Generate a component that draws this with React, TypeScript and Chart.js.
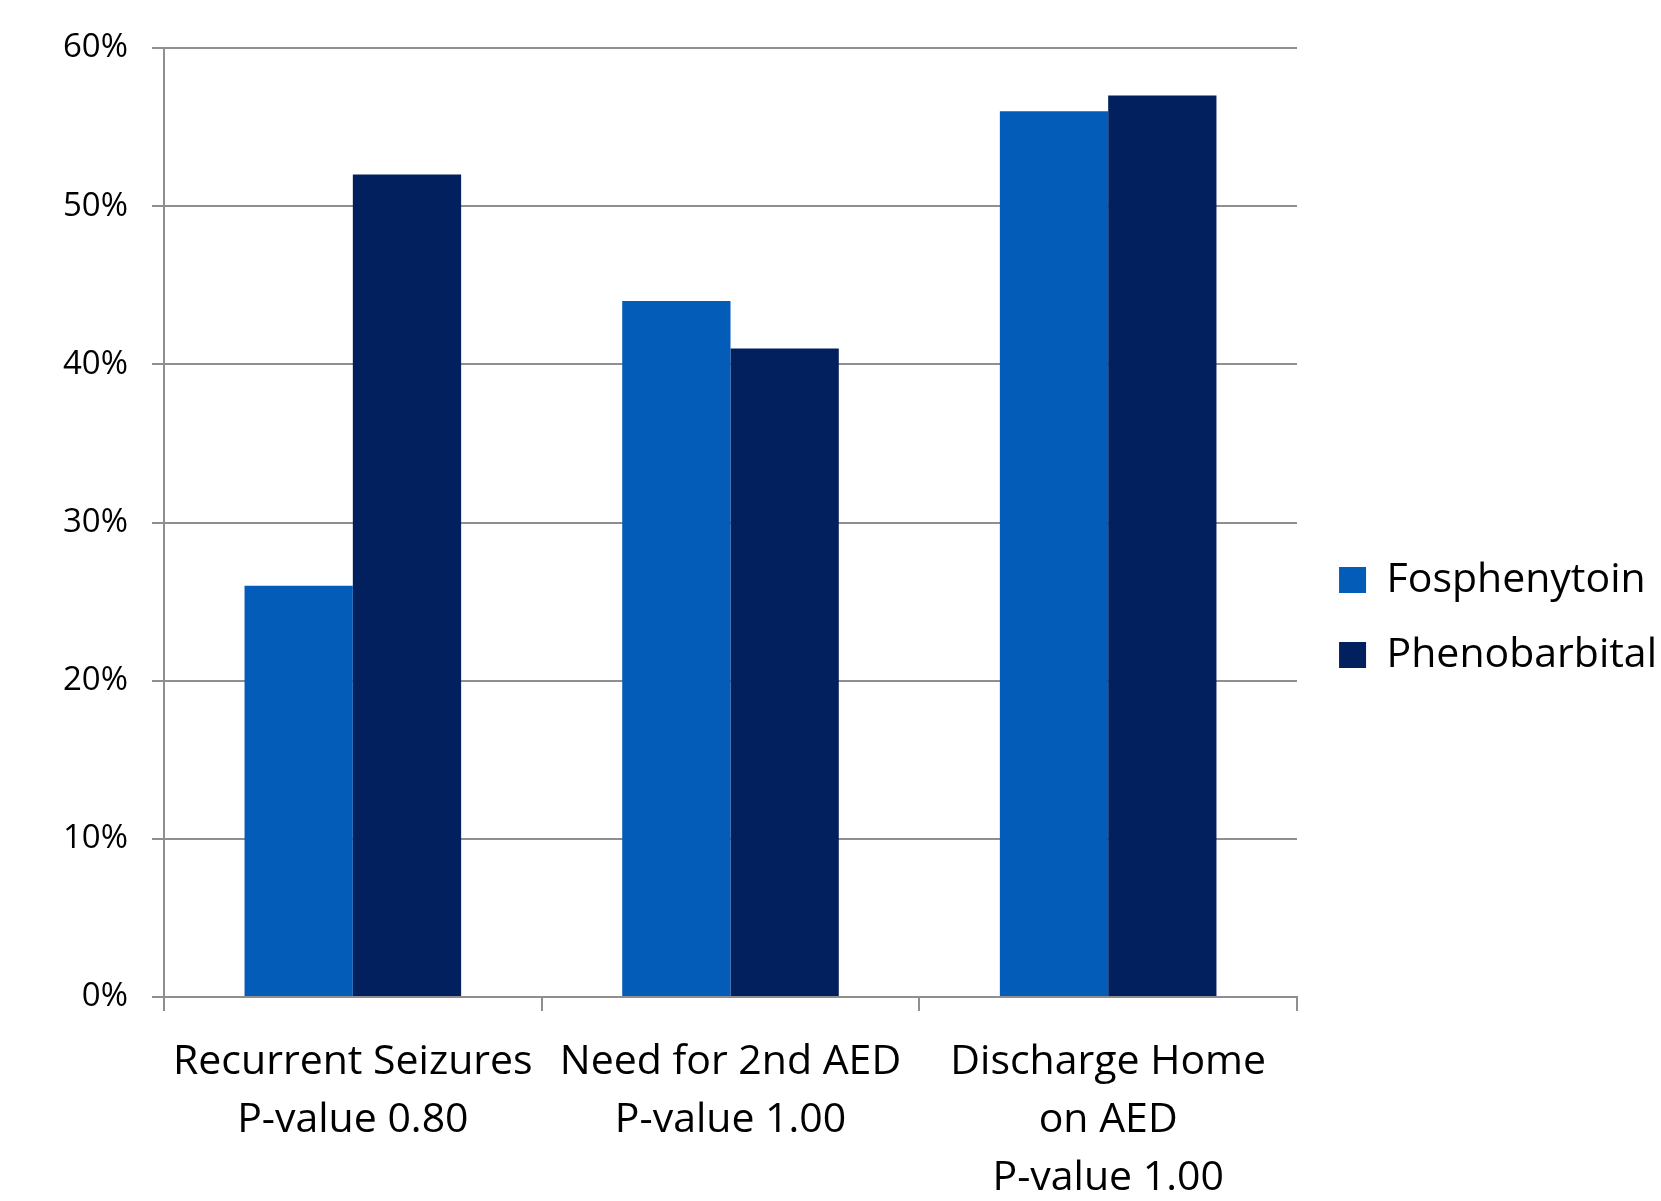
import React, { useEffect, useRef } from 'react';
import { Chart, registerables } from 'chart.js';

Chart.register(...registerables);

const categories: string[][] = [
  ['Recurrent Seizures', 'P-value 0.80'],
  ['Need for 2nd AED', 'P-value 1.00'],
  ['Discharge Home', 'on AED', 'P-value 1.00'],
];
const seriesNames = ['Fosphenytoin', 'Phenobarbital'];
const fosphenytoin = [26, 44, 56];
const phenobarbital = [52, 41, 57];
const yTickValues = [0, 10, 20, 30, 40, 50, 60];
const seriesColors = ['#035DB8', '#03205E'];

const W = 1661;
const H = 1201;
const FONT = '"Open Sans"';
const WEIGHT = '500';

export default function App() {
  const ref = useRef<HTMLCanvasElement>(null);

  useEffect(() => {
    const canvas = ref.current!;
    const ctx = canvas.getContext('2d')!;
    const legendSize = 41;
    const legendPad = 34;
    const boxW = 27;
    ctx.font = `${WEIGHT} ${legendSize}px ${FONT}`;
    const textW = Math.max(...seriesNames.map((s) => ctx.measureText(s).width));
    const legendW = legendPad + boxW + legendSize / 2 + textW + 10;
    const padRight = -6;
    const plotLeft = 164;
    const plotRight = 1297;
    const plotTop = 48;
    const padTop = 34;
    const padBottom = 0;
    const plotBottom = 997;
    const gapW = Math.max(0, W - padRight - legendW - plotRight);
    const gridColor = '#8f8f8f';

    const chart = new Chart(canvas, {
      type: 'bar',
      data: {
        labels: categories,
        datasets: [
          {
            label: seriesNames[0],
            data: fosphenytoin,
            backgroundColor: seriesColors[0],
            borderWidth: 0,
            categoryPercentage: 0.5735,
            barPercentage: 1,
          },
          {
            label: seriesNames[1],
            data: phenobarbital,
            backgroundColor: seriesColors[1],
            borderWidth: 0,
            categoryPercentage: 0.5735,
            barPercentage: 1,
          },
        ],
      },
      options: {
        responsive: false,
        animation: false,
        devicePixelRatio: 1,
        layout: {
          padding: { top: padTop, left: 0, right: padRight, bottom: padBottom },
        },
        plugins: {
          tooltip: { enabled: false },
          title: {
            display: true,
            text: '',
            font: { size: 1, lineHeight: 1 },
            padding: { top: plotTop - padTop - 1, bottom: 0 },
          },
          legend: {
            position: 'right',
            align: 'center',
            maxWidth: 600,
            labels: {
              boxWidth: boxW,
              boxHeight: 26,
              padding: legendPad,
              color: '#000',
              font: { family: FONT, size: legendSize, weight: WEIGHT },
            },
          },
        },
        scales: {
          x: {
            offset: true,
            grid: {
              offset: true,
              drawOnChartArea: false,
              drawTicks: true,
              tickLength: 14,
              color: gridColor,
              lineWidth: 2,
            },
            border: { display: true, color: gridColor, width: 2 },
            ticks: {
              color: '#000',
              padding: 22,
              maxRotation: 0,
              autoSkip: false,
              font: { family: FONT, size: 41, weight: WEIGHT, lineHeight: 58 / 41 },
            },
            afterFit: (s: any) => {
              s.height = H - padBottom - plotBottom;
            },
          },
          y: {
            min: 0,
            max: 60,
            afterBuildTicks: (s: any) => {
              s.ticks = yTickValues.map((v) => ({ value: v }));
            },
            grid: {
              color: gridColor,
              lineWidth: 2,
              tickLength: 12,
              drawTicks: true,
            },
            border: { display: true, color: gridColor, width: 2 },
            ticks: {
              color: '#000',
              padding: 24,
              font: { family: FONT, size: 33, weight: WEIGHT },
              callback: (v: any) => `${v}%`,
            },
            afterFit: (s: any) => {
              s.width = plotLeft;
            },
          },
          y2: {
            type: 'linear',
            position: 'right',
            display: true,
            grid: { display: false, drawTicks: false },
            border: { display: false },
            ticks: { display: false },
            afterFit: (s: any) => {
              s.width = gapW;
            },
          },
        },
      },
    } as any);

    return () => chart.destroy();
  }, []);

  return (
    <div style={{ position: 'absolute', left: 0, top: 0, width: W, height: H, background: '#fff' }}>
      <canvas ref={ref} width={W} height={H} style={{ display: 'block', width: W, height: H }} />
    </div>
  );
}
